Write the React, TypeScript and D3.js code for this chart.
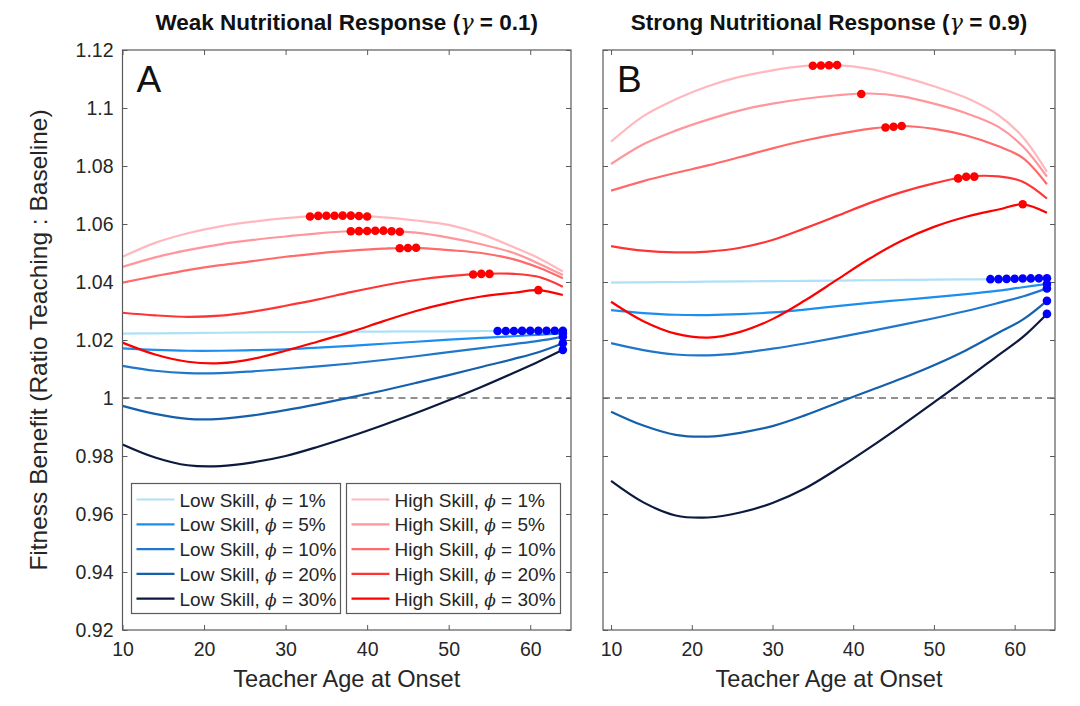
import React, { useEffect, useRef } from 'react';
import * as d3 from 'd3';

const AGES = [10, 14, 18, 22, 26, 30, 34, 38, 42, 46, 50, 54, 58, 61, 64];
const PHI = ['1%', '5%', '10%', '20%', '30%'];
const X_TICKS = [10, 20, 30, 40, 50, 60];
const Y_TICKS = [0.92, 0.94, 0.96, 0.98, 1, 1.02, 1.04, 1.06, 1.08, 1.1, 1.12];

const LOW_COLORS = ['#aee0f7', '#1b8ef0', '#1f77cc', '#1560ad', '#0d1a40'];
const HIGH_COLORS = ['#ffb8be', '#ff969c', '#ff6a6a', '#ff3535', '#ff0000'];

// panel A: weak nutritional response
const LOW_A = [
  [1.0222, 1.0223, 1.0224, 1.0225, 1.0226, 1.0227, 1.0228, 1.0229, 1.0229, 1.023, 1.023, 1.0231, 1.0231, 1.0232, 1.0232],
  [1.0171, 1.0166, 1.0163, 1.0163, 1.0165, 1.0168, 1.0174, 1.018, 1.0187, 1.0194, 1.0201, 1.0207, 1.0213, 1.0218, 1.0223],
  [1.0111, 1.0094, 1.0086, 1.0086, 1.0092, 1.01, 1.0109, 1.0119, 1.0131, 1.0144, 1.0158, 1.0172, 1.0186, 1.0197, 1.0211],
  [0.9973, 0.9945, 0.9928, 0.9928, 0.994, 0.9958, 0.9979, 1.0002, 1.0026, 1.0052, 1.0079, 1.0107, 1.0135, 1.0158, 1.0189],
  [0.984, 0.9795, 0.9768, 0.9765, 0.9778, 0.98, 0.9832, 0.9868, 0.9907, 0.9948, 0.9992, 1.0038, 1.0087, 1.0125, 1.0166],
];
const HIGH_A = [
  [1.0487, 1.0535, 1.0568, 1.0592, 1.0608, 1.062, 1.0628, 1.0629, 1.0623, 1.0612, 1.0597, 1.0565, 1.052, 1.0483, 1.0436],
  [1.0452, 1.0485, 1.051, 1.053, 1.0545, 1.0557, 1.0568, 1.0575, 1.0577, 1.057, 1.0553, 1.053, 1.05, 1.0464, 1.0424],
  [1.0398, 1.042, 1.0441, 1.0458, 1.0472, 1.0487, 1.0499, 1.0508, 1.0515, 1.0518, 1.051, 1.05, 1.0478, 1.045, 1.0413],
  [1.0294, 1.0285, 1.028, 1.0284, 1.0298, 1.0318, 1.034, 1.0365, 1.0388, 1.0407, 1.042, 1.0428, 1.0428, 1.0418, 1.0384],
  [1.0191, 1.015, 1.0125, 1.012, 1.0135, 1.0163, 1.0195, 1.0228, 1.0265, 1.03, 1.0328, 1.035, 1.0363, 1.0372, 1.0355],
];
// optimal onset ages marked with dots: [first, last]
const OPT_LOW_A = [[56, 64], [64, 64], [64, 64], [64, 64], [64, 64]];
const OPT_HIGH_A = [[33, 40], [38, 44], [44, 46], [53, 55], [61, 61]];

// panel B: strong nutritional response
const LOW_B = [
  [1.0398, 1.0399, 1.04, 1.0401, 1.0402, 1.0403, 1.0404, 1.0405, 1.0406, 1.0407, 1.0408, 1.0409, 1.041, 1.0412, 1.0413],
  [1.0303, 1.0293, 1.0287, 1.0286, 1.0289, 1.0295, 1.0305, 1.0317, 1.0328, 1.0338, 1.0348, 1.0358, 1.037, 1.0382, 1.0393],
  [1.0189, 1.0165, 1.015, 1.0147, 1.0155, 1.017, 1.0188, 1.0208, 1.023, 1.0252, 1.0275, 1.03, 1.0328, 1.035, 1.0378],
  [0.9953, 0.9905, 0.9873, 0.9867, 0.988, 0.9903, 0.994, 0.9983, 1.0025, 1.0067, 1.0113, 1.0165, 1.0225, 1.027, 1.0335],
  [0.9714, 0.964, 0.9595, 0.9588, 0.9605, 0.9638, 0.9688, 0.9755, 0.9828, 0.9905, 0.9985, 1.0065, 1.0148, 1.021, 1.029],
];
const HIGH_B = [
  [1.0884, 1.0972, 1.103, 1.1075, 1.1108, 1.113, 1.1145, 1.1148, 1.1135, 1.1108, 1.1075, 1.1035, 1.0975, 1.09, 1.078],
  [1.0807, 1.0875, 1.0922, 1.096, 1.0992, 1.1015, 1.1032, 1.1044, 1.105, 1.104, 1.1015, 1.0982, 1.0935, 1.0868, 1.0763],
  [1.0715, 1.0748, 1.0776, 1.0802, 1.0831, 1.0861, 1.0888, 1.091, 1.0928, 1.0938, 1.0928, 1.0905, 1.0868, 1.0828, 1.0737],
  [1.0524, 1.0508, 1.0502, 1.0505, 1.0518, 1.0545, 1.0585, 1.0628, 1.0672, 1.071, 1.074, 1.0763, 1.0764, 1.0746, 1.0688],
  [1.0332, 1.0265, 1.0222, 1.0208, 1.0228, 1.0272, 1.0336, 1.0408, 1.048, 1.0542, 1.059, 1.0625, 1.065, 1.0668, 1.0639],
];
const OPT_LOW_B = [[57, 64], [64, 64], [64, 64], [64, 64], [64, 64]];
const OPT_HIGH_B = [[35, 38], [41, 41], [44, 46], [53, 55], [61, 61]];

const FONT = 'Liberation Sans, Arial, Helvetica, sans-serif';
const INK = '#262626';
const FRAME = '#5a5a5a';

const App = () => {
  const svgRef = useRef<SVGSVGElement>(null);

  useEffect(() => {
    const svg = d3.select(svgRef.current);
    svg.selectAll('*').remove();

    const y = d3.scaleLinear().domain([0.92, 1.12]).range([630, 50]);
    const [yBottom, yTop] = y.range();

    const panels = [
      { tag: 'A', title: 'Weak Nutritional Response', gamma: '0.1', x: d3.scaleLinear().domain([10, 65]).range([122.5, 571]),
        low: LOW_A, high: HIGH_A, optLow: OPT_LOW_A, optHigh: OPT_HIGH_A, first: true },
      { tag: 'B', title: 'Strong Nutritional Response', gamma: '0.9', x: d3.scaleLinear().domain([9, 65]).range([603, 1055]),
        low: LOW_B, high: HIGH_B, optLow: OPT_LOW_B, optHigh: OPT_HIGH_B, first: false },
    ];

    const styleAxis = (sel) => {
      sel.select('.domain').remove();
      sel.selectAll('line').attr('stroke', FRAME);
      sel.selectAll('text').attr('fill', INK).attr('font-size', 19.5).attr('font-family', FONT);
      sel.attr('font-family', FONT);
    };

    panels.forEach(p => {
      const [x0, x1] = p.x.range();
      const g = svg.append('g');

      g.append('rect')
        .attr('x', x0).attr('y', yTop)
        .attr('width', x1 - x0).attr('height', yBottom - yTop)
        .attr('fill', 'white');

      // ticks on all four sides, pointing inward
      g.append('g').attr('transform', `translate(0,${yBottom})`)
        .call(d3.axisBottom(p.x).tickValues(X_TICKS).tickSizeInner(-5).tickSizeOuter(0).tickPadding(12))
        .call(styleAxis);
      g.append('g').attr('transform', `translate(0,${yTop})`)
        .call(d3.axisTop(p.x).tickValues(X_TICKS).tickSizeInner(-5).tickSizeOuter(0).tickFormat(() => ''))
        .call(styleAxis);
      g.append('g').attr('transform', `translate(${x0},0)`)
        .call(d3.axisLeft(y).tickValues(Y_TICKS).tickSizeInner(-5).tickSizeOuter(0).tickPadding(9)
          .tickFormat(p.first ? (d => d3.format('~g')(d)) : () => ''))
        .call(styleAxis);
      g.append('g').attr('transform', `translate(${x1},0)`)
        .call(d3.axisRight(y).tickValues(Y_TICKS).tickSizeInner(-5).tickSizeOuter(0).tickFormat(() => ''))
        .call(styleAxis);

      // baseline
      g.append('line')
        .attr('x1', x0).attr('x2', x1)
        .attr('y1', y(1)).attr('y2', y(1))
        .attr('stroke', '#6b6b6b').attr('stroke-width', 1.3)
        .attr('stroke-dasharray', '7,5');

      const line = d3.line<number>()
        .x((_, i) => p.x(AGES[i]))
        .y(d => y(d))
        .curve(d3.curveCatmullRom.alpha(0.5));

      const groups = [
        { rows: p.low, colors: LOW_COLORS, opt: p.optLow, dot: '#0000ff' },
        { rows: p.high, colors: HIGH_COLORS, opt: p.optHigh, dot: '#ff0000' },
      ];

      groups.forEach(grp => {
        grp.rows.forEach((row, i) => {
          g.append('path')
            .attr('d', line(row))
            .attr('fill', 'none')
            .attr('stroke', grp.colors[i])
            .attr('stroke-width', 2.2);
        });
      });

      groups.forEach(grp => {
        grp.rows.forEach((row, i) => {
          const interp = d3.scaleLinear().domain(AGES).range(row);
          const [a, b] = grp.opt[i];
          g.selectAll(null)
            .data(d3.range(a, b + 1))
            .enter().append('circle')
            .attr('cx', d => p.x(d))
            .attr('cy', d => y(interp(d)))
            .attr('r', 4.3)
            .attr('fill', grp.dot);
        });
      });

      // frame
      g.append('rect')
        .attr('x', x0).attr('y', yTop)
        .attr('width', x1 - x0).attr('height', yBottom - yTop)
        .attr('fill', 'none').attr('stroke', FRAME).attr('stroke-width', 1.2);

      g.append('text')
        .attr('x', x0 + 14).attr('y', yTop + 42)
        .attr('font-family', FONT).attr('font-size', 37).attr('fill', '#111')
        .text(p.tag);

      const title = g.append('text')
        .attr('x', (x0 + x1) / 2).attr('y', 30)
        .attr('text-anchor', 'middle')
        .attr('font-family', FONT).attr('font-size', 22.5).attr('font-weight', 'bold').attr('fill', '#111');
      title.append('tspan').text(`${p.title} (`);
      title.append('tspan').attr('font-style', 'italic').attr('font-weight', 'normal').attr('font-family', 'DejaVu Serif').text('γ');
      title.append('tspan').text(` = ${p.gamma})`);

      g.append('text')
        .attr('x', (x0 + x1) / 2).attr('y', 687)
        .attr('text-anchor', 'middle')
        .attr('font-family', FONT).attr('font-size', 23.6).attr('fill', INK)
        .text('Teacher Age at Onset');

      if (p.first) {
        g.append('text')
          .attr('transform', `translate(47,${(yTop + yBottom) / 2}) rotate(-90)`)
          .attr('text-anchor', 'middle')
          .attr('font-family', FONT).attr('font-size', 24.5).attr('fill', INK)
          .text('Fitness Benefit (Ratio Teaching : Baseline)');

        const boxes = [
          { x: 131.5, w: 209, name: 'Low Skill', colors: LOW_COLORS },
          { x: 346.5, w: 214, name: 'High Skill', colors: HIGH_COLORS },
        ];
        const boxTop = 483.5, boxH = 130;
        boxes.forEach(b => {
          const lg = g.append('g');
          lg.append('rect')
            .attr('x', b.x).attr('y', boxTop).attr('width', b.w).attr('height', boxH)
            .attr('fill', 'white').attr('stroke', FRAME).attr('stroke-width', 1.2);
          PHI.forEach((phi, i) => {
            const ry = boxTop + 16 + i * 24.8;
            lg.append('line')
              .attr('x1', b.x + 5).attr('x2', b.x + 43)
              .attr('y1', ry).attr('y2', ry)
              .attr('stroke', b.colors[i]).attr('stroke-width', 2.2);
            const t = lg.append('text')
              .attr('x', b.x + 48).attr('y', ry + 7)
              .attr('font-family', FONT).attr('font-size', 19).attr('fill', INK);
            t.append('tspan').text(`${b.name}, `);
            t.append('tspan').attr('font-style', 'italic').attr('font-family', 'DejaVu Serif').attr('font-size', 17).text('ϕ');
            t.append('tspan').text(` = ${phi}`);
          });
        });
      }
    });
  }, []);

  return (
    <svg ref={svgRef} width={1080} height={706}
      style={{ position: 'absolute', left: 0, top: 0, background: 'white' }} />
  );
};

export default App;
